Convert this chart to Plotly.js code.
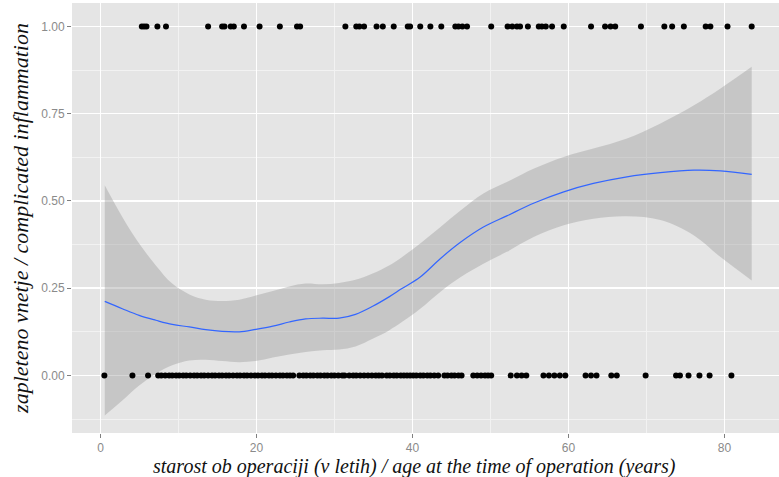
<!DOCTYPE html>
<html><head><meta charset="utf-8">
<script src="https://cdn.plot.ly/plotly-3.0.1.min.js"></script>
<style>html,body{margin:0;padding:0;background:#fff}</style>
</head><body><div id="chart" style="width:779px;height:477px"></div>
<script>
// Ages (years) of patients with complicated inflammation (outcome = 1)
const ageComplicated = [5.3, 5.6, 5.9, 7.3, 8.4, 13.8, 15.6, 15.9, 16.7, 17.1, 18.4, 20.4, 23.0, 25.2, 25.6,
  31.4, 32.8, 33.2, 33.8, 35.4, 36.2, 37.6, 39.4, 39.7, 41.0, 42.3, 43.7, 45.5, 45.9, 46.4, 47.0,
  50.1, 52.2, 52.8, 53.4, 53.8, 54.8, 56.2, 56.6, 57.1, 57.9, 59.4, 62.9, 64.7, 65.4, 66.0,
  69.3, 72.3, 73.3, 74.8, 77.6, 78.2, 80.4, 83.5];
// Ages (years) of patients without complication (outcome = 0)
const ageUncomplicated = [0.5, 4.1, 6.1,
  7.4, 7.8, 8.3, 8.8, 9.2, 9.7, 10.1, 10.6, 11.0, 11.5, 12.0, 12.4, 12.9, 13.3, 13.8, 14.3, 14.7,
  15.2, 15.6, 16.1, 16.5, 17.0, 17.5, 17.9, 18.4, 18.8, 19.3, 19.8, 20.2, 20.7, 21.1, 21.6, 22.0,
  22.5, 23.0, 23.4, 23.9, 24.3, 24.7,
  25.5, 26.0, 26.4, 26.9, 27.3, 27.8, 28.2, 28.7, 29.1, 29.6, 30.0, 30.5, 31.0, 31.3,
  31.9, 32.4, 32.8, 33.3, 33.8, 34.3, 34.8, 35.3, 35.7, 36.1,
  36.7, 37.1, 37.6, 38.0, 38.5, 38.9, 39.3, 39.7, 40.1, 40.5, 41.0, 41.4, 41.9, 42.3, 42.8, 43.3,
  44.1, 44.5, 45.0, 45.4, 45.9, 46.3, 47.8, 48.3, 48.8, 49.3, 49.7, 50.1,
  52.6, 53.4, 54.0, 54.6, 56.8, 57.5, 58.2, 58.9, 59.6, 62.2, 62.9, 63.6, 65.5, 66.2,
  69.9, 73.8, 74.3, 75.4, 76.8, 78.1, 80.9];
const outcomeComplicated = ageComplicated.map(() => 1);
const outcomeUncomplicated = ageUncomplicated.map(() => 0);

// LOESS smooth with confidence band
const smoothAge   = [0.55, 2.8, 4.96, 7.1, 9.2, 11.4, 13.5, 15.6, 17.8, 19.9, 22.1, 24.2, 26.3, 28.5, 30.6,
  32.7, 34.9, 37.0, 38.6, 41.0, 43.6, 46.2, 49.1, 52.1, 55.6, 59.4, 63.2, 67.5, 71.8, 76.1, 79.5, 83.5];
const smoothFit   = [0.212, 0.191, 0.172, 0.158, 0.146, 0.139, 0.131, 0.126, 0.125, 0.132, 0.141, 0.153, 0.162, 0.164, 0.164,
  0.175, 0.198, 0.225, 0.248, 0.282, 0.335, 0.382, 0.425, 0.457, 0.494, 0.526, 0.550, 0.569, 0.581, 0.588, 0.586, 0.576];
const smoothLower = [-0.115, -0.072, -0.029, 0.005, 0.029, 0.043, 0.045, 0.041, 0.038, 0.041, 0.051, 0.060, 0.067, 0.072, 0.074,
  0.083, 0.105, 0.129, 0.152, 0.191, 0.240, 0.282, 0.320, 0.354, 0.397, 0.430, 0.449, 0.456, 0.445, 0.401, 0.339, 0.272];
const smoothUpper = [0.545, 0.454, 0.378, 0.315, 0.263, 0.232, 0.217, 0.213, 0.217, 0.229, 0.242, 0.255, 0.263, 0.261, 0.265,
  0.274, 0.292, 0.315, 0.338, 0.378, 0.425, 0.473, 0.521, 0.554, 0.593, 0.626, 0.650, 0.679, 0.722, 0.774, 0.822, 0.884];

const xTicks = [0, 20, 40, 60, 80];
const yTicks = [0, 0.25, 0.5, 0.75, 1];
const yTickLabels = ['0.00', '0.25', '0.50', '0.75', '1.00'];
const xTitle = 'starost ob operaciji (v letih) / age at the time of operation (years)';
const yTitle = 'zapleteno vnetje / complicated inflammation';

const traces = [
  {x: smoothAge, y: smoothLower, type: 'scatter', mode: 'lines',
   line: {width: 0, color: 'rgba(0,0,0,0)', shape: 'spline', smoothing: 1},
   hoverinfo: 'skip', showlegend: false},
  {x: smoothAge, y: smoothUpper, type: 'scatter', mode: 'lines',
   line: {width: 0, color: 'rgba(0,0,0,0)', shape: 'spline', smoothing: 1},
   fill: 'tonexty', fillcolor: 'rgba(153,153,153,0.4)', hoverinfo: 'skip', showlegend: false},
  {x: ageUncomplicated, y: outcomeUncomplicated, type: 'scatter', mode: 'markers',
   marker: {color: '#000', size: 6}, showlegend: false},
  {x: ageComplicated, y: outcomeComplicated, type: 'scatter', mode: 'markers',
   marker: {color: '#000', size: 6}, showlegend: false},
  {x: smoothAge, y: smoothFit, type: 'scatter', mode: 'lines', line: {color: '#3366FF', width: 1.2, shape: 'spline'},
   showlegend: false}
];

const tickFont = {family: 'Liberation Sans, Arial, sans-serif', size: 12, color: '#8a8a8a'};
const titleFont = {family: 'Liberation Serif, Times New Roman, serif', size: 20, color: '#111', style: 'italic'};

const layout = {
  width: 779, height: 477,
  margin: {l: 72, r: 0, t: 3, b: 44, pad: 0},
  paper_bgcolor: '#ffffff',
  plot_bgcolor: '#E5E5E5',
  showlegend: false,
  xaxis: {
    range: [-3.65, 87.0], tickvals: xTicks, ticktext: xTicks.map(String),
    showgrid: true, gridcolor: '#ffffff', gridwidth: 1.6, zeroline: false, showline: false,
    ticks: 'outside', ticklen: 4, tickwidth: 1, tickcolor: '#808080', tickfont: tickFont,
    minor: {dtick: 10, tick0: 0, showgrid: true, gridcolor: '#F2F2F2', gridwidth: 1, ticks: ''},
    automargin: false, fixedrange: true
  },
  yaxis: {
    range: [-0.165, 1.067], tickvals: yTicks, ticktext: yTickLabels,
    showgrid: true, gridcolor: '#ffffff', gridwidth: 1.6, zeroline: false, showline: false,
    ticks: 'outside', ticklen: 4, tickwidth: 1, tickcolor: '#808080', tickfont: tickFont,
    minor: {dtick: 0.125, tick0: 0, showgrid: true, gridcolor: '#F2F2F2', gridwidth: 1, ticks: ''},
    title: {text: yTitle, font: Object.assign({}, titleFont, {size: 22}), standoff: 6},
    automargin: false, fixedrange: true
  },
  annotations: [{
    text: xTitle, xref: 'paper', yref: 'paper', x: 0.485, y: -0.077,
    xanchor: 'center', yanchor: 'middle', showarrow: false, font: titleFont
  }]
};

Plotly.newPlot('chart', traces, layout, {staticPlot: true, displayModeBar: false});
</script>
</body></html>
